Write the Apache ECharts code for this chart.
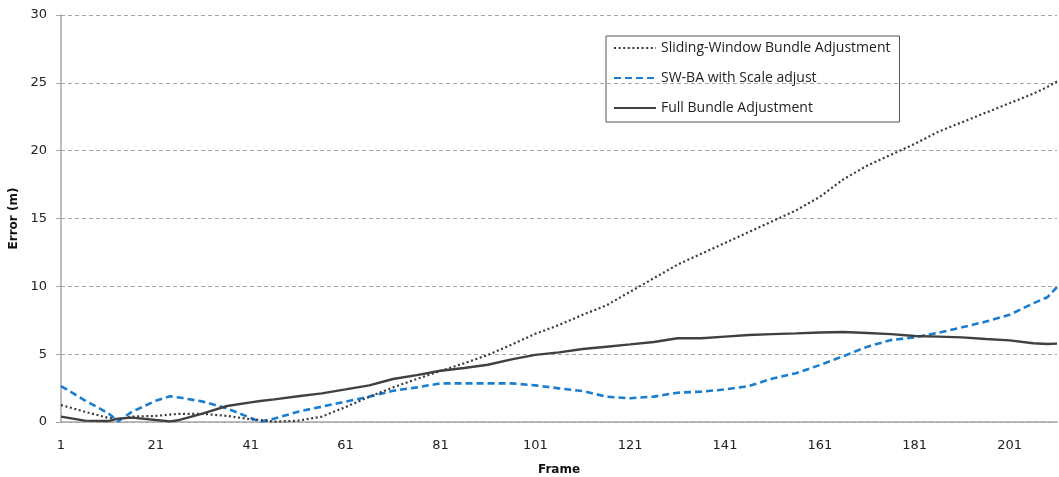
<!DOCTYPE html>
<html>
<head>
<meta charset="utf-8">
<script src="https://cdn.jsdelivr.net/npm/echarts@6/dist/echarts.min.js"></script>
<style>
html,body{margin:0;padding:0;background:#fff;}
#chart{width:1059px;height:477px;}
</style>
</head>
<body>
<div id="chart"></div>
<script>
const frames = [1,6,11,13,16,21,24,26,31,36,41,43,46,51,56,61,66,71,76,81,86,91,96,101,106,111,116,121,126,131,136,141,146,151,156,161,166,171,176,181,186,191,196,201,206,209,211];
const slidingWindowBA = [1.25,0.76,0.3,0.2,0.4,0.45,0.55,0.6,0.6,0.45,0.2,0.15,0.02,0.1,0.4,1.1,1.86,2.55,3.17,3.76,4.33,4.94,5.7,6.5,7.15,7.9,8.6,9.6,10.6,11.6,12.4,13.2,14.0,14.8,15.6,16.6,17.9,18.9,19.7,20.5,21.4,22.1,22.8,23.5,24.2,24.7,25.1];
const swbaScale = [2.65,1.6,0.64,0.05,0.76,1.57,1.9,1.8,1.5,1.0,0.3,0.02,0.25,0.76,1.13,1.5,1.87,2.3,2.55,2.85,2.85,2.85,2.85,2.7,2.48,2.28,1.87,1.75,1.87,2.16,2.24,2.4,2.65,3.2,3.6,4.2,4.86,5.55,6.04,6.24,6.58,6.98,7.4,7.9,8.75,9.2,9.95];
const fullBA = [0.4,0.1,0.07,0.25,0.32,0.15,0.05,0.15,0.64,1.18,1.45,1.55,1.67,1.9,2.11,2.4,2.7,3.17,3.46,3.78,3.98,4.22,4.62,4.95,5.13,5.38,5.55,5.72,5.9,6.17,6.17,6.29,6.41,6.48,6.53,6.6,6.63,6.56,6.48,6.34,6.29,6.24,6.12,6.02,5.8,5.75,5.78];
const seriesNames = ['Sliding-Window Bundle Adjustment','SW-BA with Scale adjust','Full Bundle Adjustment'];
const firstFrame = 1, lastFrame = 211;
const categories = [];
for (let f = firstFrame; f <= lastFrame; f++) categories.push(String(f));

const pairs = vals => frames.map((f, i) => [String(f), vals[i]]);

const chart = echarts.init(document.getElementById('chart'), null, {renderer:'canvas'});
const labelFont = {fontFamily:'DejaVu Sans', fontSize:13, color:'#222'};
chart.setOption({
  animation:false,
  backgroundColor:'#fff',
  grid:{left:61, right:2, top:15, bottom:55, containLabel:false, outerBoundsMode:'none'},
  legend:{
    orient:'vertical', left:606, top:36,
    padding:[5,9,7,7],
    itemWidth:42, itemHeight:14, itemGap:16,
    borderColor:'#555', borderWidth:1,
    itemStyle:{opacity:0},
    textStyle:{fontFamily:'Open Sans', fontSize:14, color:'#222'},
    data:seriesNames
  },
  xAxis:{
    type:'category', data:categories, boundaryGap:false,
    name:'Frame', nameLocation:'middle', nameGap:42,
    nameTextStyle:{fontFamily:'DejaVu Sans', fontSize:12, fontWeight:'bold', color:'#111'},
    axisLine:{lineStyle:{color:'#a6a6a6', width:1.5}},
    axisTick:{show:false},
    axisLabel:Object.assign({interval:19, margin:17}, labelFont),
    splitLine:{show:false}
  },
  yAxis:{
    type:'value', min:0, max:30, interval:5,
    name:'Error (m)', nameLocation:'middle', nameGap:33,
    nameTextStyle:{fontFamily:'DejaVu Sans', fontSize:12, fontWeight:'bold', color:'#111'},
    axisLine:{show:true, lineStyle:{color:'#a6a6a6', width:1.5}},
    axisTick:{show:true, length:5, lineStyle:{color:'#a6a6a6'}},
    axisLabel:Object.assign({margin:14}, labelFont),
    splitLine:{lineStyle:{color:'#a6a6a6', type:[4,3], width:1}}
  },
  series:[
    {name:seriesNames[0], type:'line', data:pairs(slidingWindowBA), showSymbol:false, symbol:'none',
     lineStyle:{color:'#3a3a3a', width:2.2, type:[2,2.6]}, itemStyle:{color:'#3a3a3a'}, z:3},
    {name:seriesNames[1], type:'line', data:pairs(swbaScale), showSymbol:false, symbol:'none',
     lineStyle:{color:'#1a7dd0', width:2.6, type:[7,4]}, itemStyle:{color:'#1a7dd0'}, z:2},
    {name:seriesNames[2], type:'line', data:pairs(fullBA), showSymbol:false, symbol:'none',
     lineStyle:{color:'#404040', width:2.4}, itemStyle:{color:'#404040'}, z:4}
  ]
});
</script>
</body>
</html>
